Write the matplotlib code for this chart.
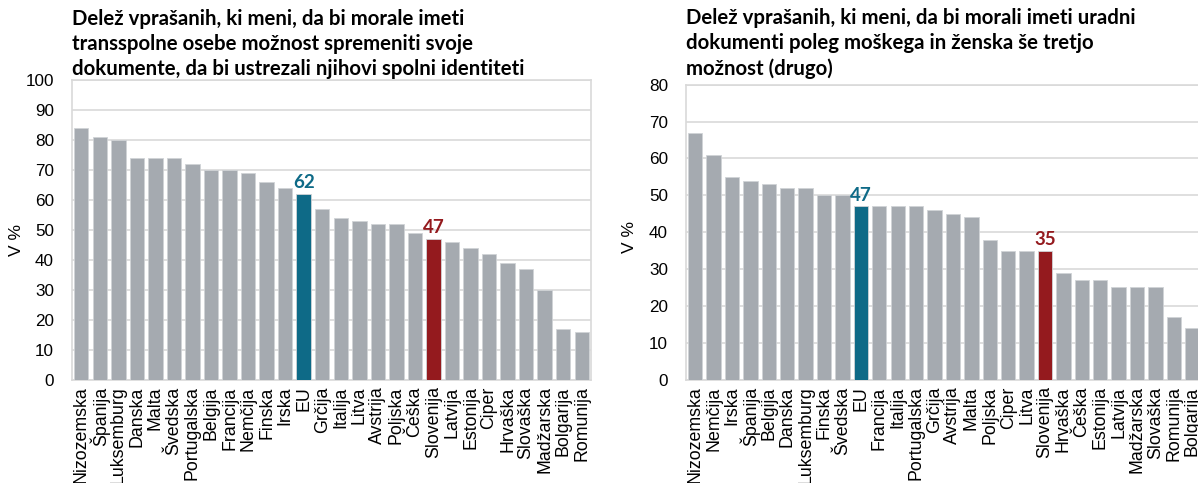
import matplotlib
matplotlib.use("Agg")
import matplotlib.pyplot as plt

# ---- data ----
cats_left = ["Nizozemska", "Španija", "Luksemburg", "Danska", "Malta", "Švedska",
             "Portugalska", "Belgija", "Francija", "Nemčija", "Finska", "Irska", "EU",
             "Grčija", "Italija", "Litva", "Avstrija", "Poljska", "Češka", "Slovenija",
             "Latvija", "Estonija", "Ciper", "Hrvaška", "Slovaška", "Madžarska",
             "Bolgarija", "Romunija"]
vals_left = [84, 81, 80, 74, 74, 74, 72, 70, 70, 69, 66, 64, 62, 57, 54, 53, 52, 52,
             49, 47, 46, 44, 42, 39, 37, 30, 17, 16]

cats_right = ["Nizozemska", "Nemčija", "Irska", "Španija", "Belgija", "Danska",
              "Luksemburg", "Finska", "Švedska", "EU", "Francija", "Italija",
              "Portugalska", "Grčija", "Avstrija", "Malta", "Poljska", "Ciper", "Litva",
              "Slovenija", "Hrvaška", "Češka", "Estonija", "Latvija", "Madžarska",
              "Slovaška", "Romunija", "Bolgarija"]
vals_right = [67, 61, 55, 54, 53, 52, 52, 50, 50, 47, 47, 47, 47, 46, 45, 44, 38, 35,
              35, 35, 29, 27, 27, 25, 25, 25, 17, 14]

title_left = ("Delež vprašanih, ki meni, da bi morale imeti\n"
              "transspolne osebe možnost spremeniti svoje\n"
              "dokumente, da bi ustrezali njihovi spolni identiteti")
title_right = ("Delež vprašanih, ki meni, da bi morali imeti uradni\n"
               "dokumenti poleg moškega in ženska še tretjo\n"
               "možnost (drugo)")

ylim_left = (0, 100)
ylim_right = (0, 80)
yticks_left = list(range(0, 101, 10))
yticks_right = list(range(0, 81, 10))

GRAY = "#A5AAB0"
BLUE = "#0E6A87"
RED = "#941A1E"
GRID = "#D9D9D9"

W, H = 1198, 483
fig = plt.figure(figsize=(W / 100, H / 100), dpi=100)

def px_axes(left, right, top, bottom):
    return fig.add_axes([left / W, 1 - bottom / H, (right - left) / W, (bottom - top) / H])

ax1 = px_axes(72, 591, 80, 379.5)
ax2 = px_axes(686, 1201.5, 84.8, 379.5)

def draw(ax, cats, vals, ylim, yticks, title, label_xy, left_px):
    colors = []
    for c in cats:
        if c == "EU":
            colors.append(BLUE)
        elif c == "Slovenija":
            colors.append(RED)
        else:
            colors.append(GRAY)
    x = list(range(len(cats)))
    ax.bar(x, vals, width=0.78, color=colors, edgecolor="#D0D3D6", linewidth=0.6, zorder=3)
    ax.set_xlim(-0.5, len(cats) - 0.5)
    ax.set_ylim(*ylim)
    ax.set_yticks(yticks)
    ax.set_xticks(x)
    ax.set_xticklabels(cats, rotation=90, fontsize=12.8, family="Liberation Sans")
    for lab in ax.get_yticklabels():
        lab.set_family("Liberation Sans")
        lab.set_fontsize(12.3)
    ax.tick_params(axis="both", length=0)
    ax.tick_params(axis="y", pad=13)
    ax.tick_params(axis="x", pad=5)
    ax.grid(axis="y", color=GRID, linewidth=1.2, zorder=0)
    for s in ax.spines.values():
        s.set_color(GRID)
        s.set_linewidth(1.2)
    ax.set_ylabel("V %", fontsize=12.5, family="Liberation Sans")
    ax.yaxis.set_label_coords(*label_xy)
    for i, (c, v) in enumerate(zip(cats, vals)):
        if c in ("EU", "Slovenija"):
            ax.annotate(str(v), (i, v), xytext=(0, 2), textcoords="offset points",
                        ha="center", va="bottom", fontsize=13.5, fontweight="bold",
                        family="Lato", color=BLUE if c == "EU" else RED)
    fig.text(left_px / W, 1 - 79 / H, title, ha="left", va="bottom",
             fontsize=14.7, fontweight="bold", family="Lato", linespacing=1.32)

draw(ax1, cats_left, vals_left, ylim_left, yticks_left, title_left, (-0.0925, 0.467), 72)
draw(ax2, cats_right, vals_right, ylim_right, yticks_right, title_right, (-0.095, 0.483), 686)

fig.savefig("out.png", dpi=100)
